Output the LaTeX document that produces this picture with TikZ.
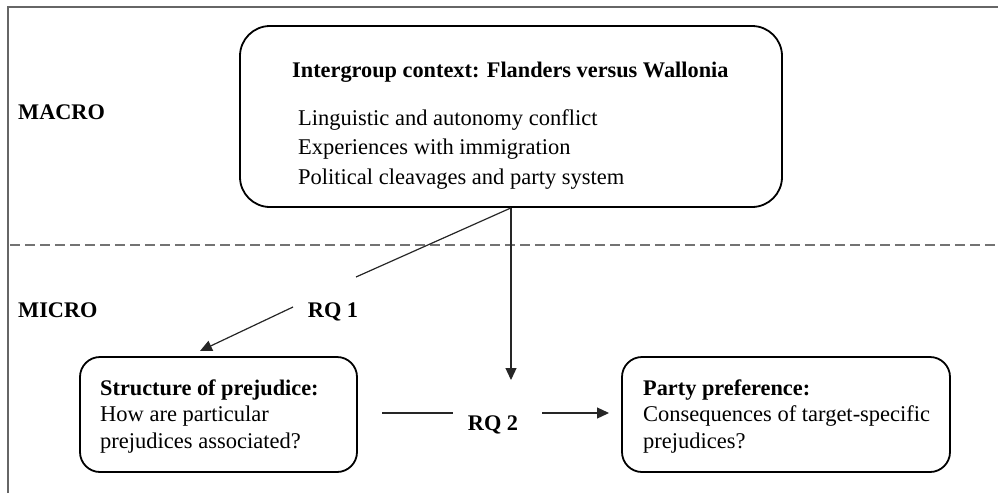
\documentclass[tikz,border=0pt]{standalone}
\usepackage{fontspec}
\setmainfont{Liberation Serif}
\usetikzlibrary{arrows.meta}
\begin{document}
\begin{tikzpicture}[x=1pt,y=-1pt,
  box/.style={draw=black, line width=1.8pt, rounded corners=#1, inner sep=0pt},
  txt/.style={anchor=base west, inner sep=0pt, font=\fontsize{22.5}{26}\selectfont},
  bld/.style={anchor=base west, inner sep=0pt, font=\fontsize{22.3}{26}\selectfont\bfseries},
  conn/.style={line width=1.2pt, black!85},
  arr/.style={conn, -{Triangle[length=12pt,width=11pt]}}]
\useasboundingbox (0,0) rectangle (998,493);
% frame
\draw[line width=2pt, black!60] (8,493) -- (8,7) -- (998,7);
% dashed separator
\draw[line width=1.4pt, black!55, dash pattern=on 10pt off 5pt] (10,245) -- (998,245);
% level labels
\node[bld] (macro) at (18,119) {MACRO};
\node[bld] (micro) at (18,317) {MICRO};
% boxes
\node[box=30pt, minimum width=542pt, minimum height=181pt] (top) at (511,116.5) {};
\node[box=20pt, minimum width=277pt, minimum height=115pt] (left) at (218.5,414.5) {};
\node[box=20pt, minimum width=328pt, minimum height=115pt] (right) at (786,414.5) {};
% top box text
\node[bld] (t0) at (292,77) {Intergroup context: Flanders versus Wallonia};
\node[txt] (t1) at (298,125) {Linguistic and autonomy conflict};
\node[txt] (t2) at (298,154.5) {Experiences with immigration};
\node[txt] (t3) at (298,184) {Political cleavages and party system};
% left box text
\node[bld] (l0) at (100,395) {Structure of prejudice:};
\node[txt] (l1) at (100,421.5) {How are particular};
\node[txt] (l2) at (100,448) {prejudices associated?};
% right box text
\node[bld] (r0) at (643,395) {Party preference:};
\node[txt] (r1) at (643,421.5) {Consequences of target-specific};
\node[txt] (r2) at (643,448) {prejudices?};
% RQ labels
\node[bld, anchor=base] (rq1) at (333,317) {RQ 1};
\node[bld, anchor=base] (rq2) at (493,430) {RQ 2};
% connectors
\coordinate (a1) at (356,277);
\coordinate (a2) at (293,307);
\coordinate (a3) at (200,351);
\draw[conn] (top.south) -- (a1);
\draw[arr] (a2) -- (a3);
\coordinate (v1) at (511,380);
\draw[arr] (top.south) -- (v1);
\coordinate (b1) at (382,413);
\coordinate (b2) at (453,413);
\coordinate (b3) at (542,413);
\coordinate (b4) at (609,413);
\draw[conn] (b1) -- (b2);
\draw[arr] (b3) -- (b4);
\end{tikzpicture}
\end{document}
